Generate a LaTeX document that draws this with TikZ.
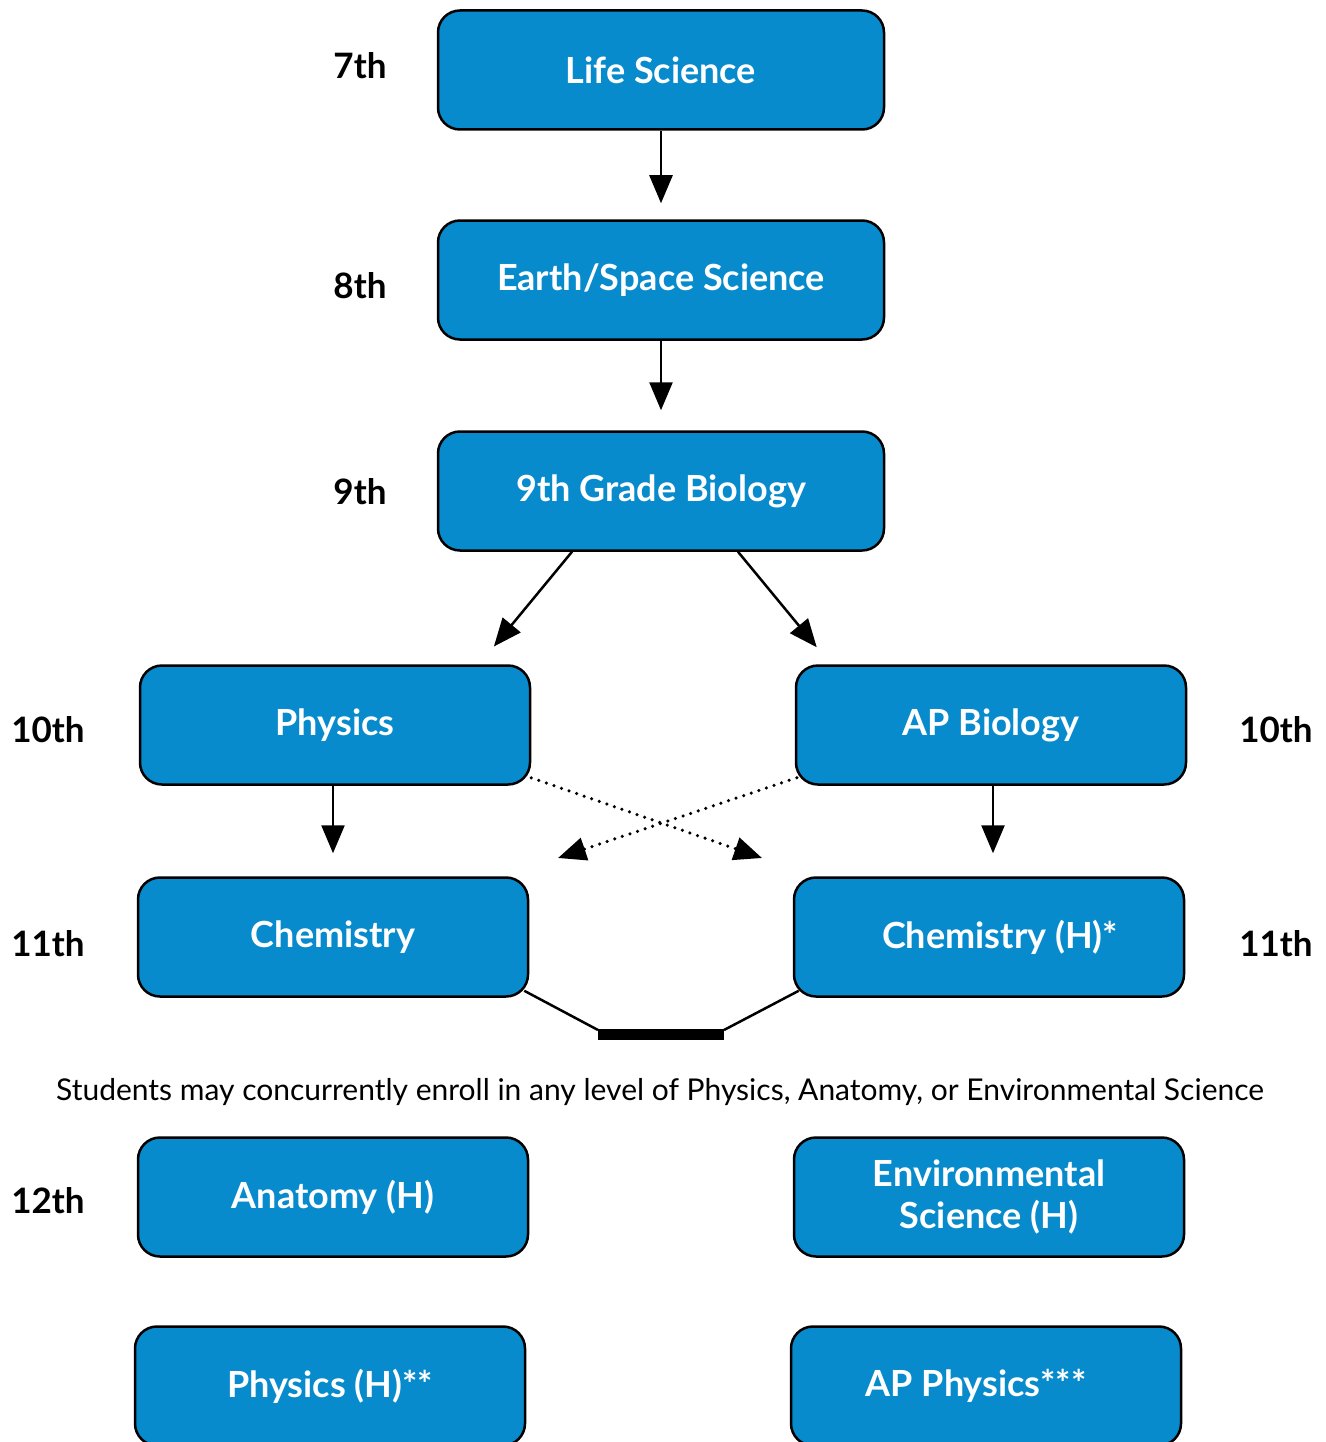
\documentclass[tikz,border=0pt]{standalone}
\usepackage{fontspec}
\setmainfont{Lato}
\usetikzlibrary{arrows.meta}
\definecolor{boxblue}{RGB}{8,139,204}

\begin{document}
\begin{tikzpicture}[x=1pt, y=-1pt,
    course/.style={draw=black, line width=2.5pt, fill=boxblue, rounded corners=22pt,
        minimum width=390pt, minimum height=119pt, text=white, align=center,
        font=\fontsize{36}{42}\selectfont\bfseries},
    widecourse/.style={course, minimum width=446pt},
    grade/.style={font=\fontsize{35}{42}\selectfont\bfseries},
    flow/.style={-{Triangle[length=28pt, width=23pt]}, line width=2.5pt},
    crossflow/.style={flow, line width=3.5pt, line cap=round, dash pattern=on 0pt off 8pt}]
    \useasboundingbox (0,0) rectangle (1325,1442);

    % Courses
    \node[widecourse] (life) at (661,70) {Life Science};
    \node[widecourse] (earth) at (661,280) {Earth/Space Science};
    \node[widecourse] (bio) at (661,491) {9th Grade Biology};
    \node[course] (phys) at (335,725) {Physics};
    \node[course] (apbio) at (991,725) {AP Biology};
    \node[course] (chem) at (333,937) {Chemistry};
    \node[course] (chemh) at (989,937) {\hspace*{22pt}Chemistry (H)*};
    \node[course] (anat) at (333,1197) {Anatomy (H)};
    \node[course] (env) at (989,1197) {Environmental\\Science (H)};
    \node[course] (physh) at (330,1386) {Physics (H)**};
    \node[course] (apphys) at (986,1386) {AP Physics***\hspace*{20pt}};

    % Grades
    \node[grade] (g7) at (360,66) {7th};
    \node[grade] (g8) at (360,286) {8th};
    \node[grade] (g9) at (360,492) {9th};
    \node[grade] (g10l) at (48,730) {10th};
    \node[grade] (g11l) at (48,944) {11th};
    \node[grade] (g12l) at (48,1201) {12th};
    \node[grade] (g10r) at (1276,730) {10th};
    \node[grade] (g11r) at (1276,944) {11th};

    % Note
    \node[font=\fontsize{30}{36}\selectfont] (note) at (660,1092)
        {Students may concurrently enroll in any level of Physics, Anatomy, or Environmental Science};

    % Arrows
    \draw[flow, shorten >=16pt] (life.south) -- (earth.north);
    \draw[flow, shorten >=20pt] (earth.south) -- (bio.north);
    \draw[flow, shorten >=23pt] ([xshift=-89pt]bio.south) -- ([xshift=-52pt]phys.north east);
    \draw[flow, shorten >=22pt] ([xshift=77pt]bio.south) -- ([xshift=36pt]apbio.north west);
    \draw[flow, shorten >=23pt] ([xshift=-2pt]phys.south) -- (chem.north);
    \draw[flow, shorten >=23pt] ([xshift=2pt]apbio.south) -- ([xshift=4pt]chemh.north);

    % Dotted crossing
    \coordinate (dotr) at (762,858);
    \coordinate (dotl) at (558,858);
    \draw[crossflow] ([yshift=8pt]phys.south east) -- (dotr);
    \draw[crossflow] ([xshift=2pt,yshift=8pt]apbio.south west) -- (dotl);

    % Bar between chemistry courses
    \coordinate (barl) at (598,1034);
    \coordinate (barr) at (724,1034);
    \draw[line width=2.5pt] ([xshift=-5pt,yshift=7pt]chem.south east) -- ([yshift=4pt]barl);
    \draw[line width=2.5pt] ([xshift=6pt,yshift=7pt]chemh.south west) -- ([yshift=4pt]barr);
    \draw[line width=11pt] (barl) -- (barr);
\end{tikzpicture}
\end{document}
